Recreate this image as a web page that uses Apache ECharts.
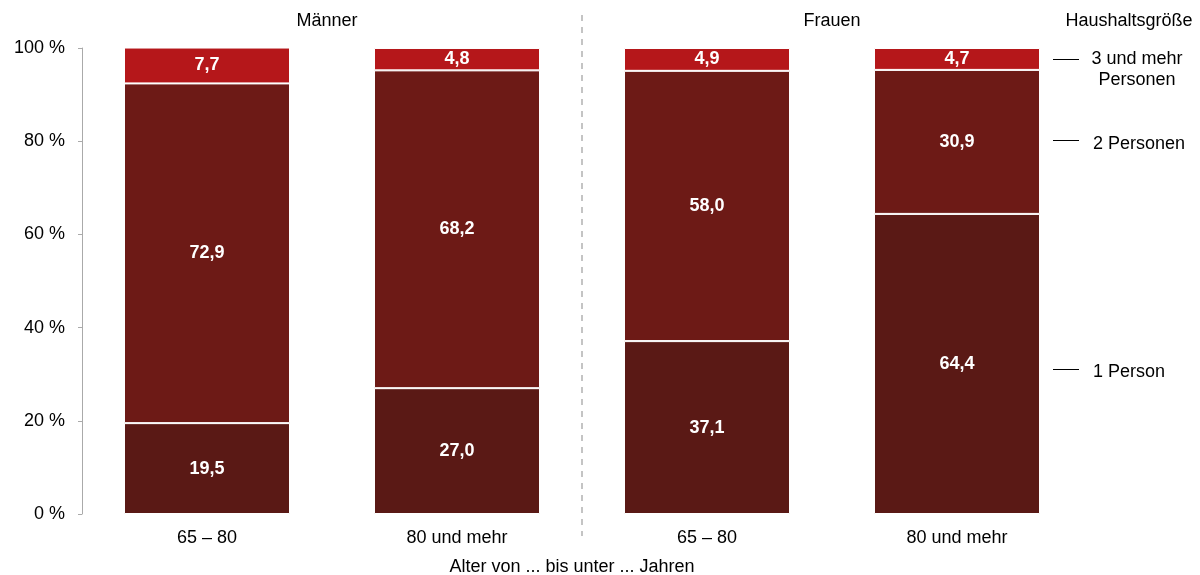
<!DOCTYPE html>
<html>
<head>
<meta charset="utf-8">
<script src="https://cdn.jsdelivr.net/npm/echarts@6/dist/echarts.min.js"></script>
<style>
  html, body { margin: 0; padding: 0; background: #fff; }
  #chart { width: 1200px; height: 575px; }
</style>
</head>
<body>
<div id="chart"></div>
<script>
// Haushaltsgröße nach Alter und Geschlecht, in %
var categories = ['65 – 80', '80 und mehr', '65 – 80', '80 und mehr'];
var groups = ['Männer', 'Frauen'];
var onePerson = [19.5, 27.0, 37.1, 64.4];
var twoPersons = [72.9, 68.2, 58.0, 30.9];
var threePlus = [7.7, 4.8, 4.9, 4.7];
var yTicks = [0, 20, 40, 60, 80, 100];

var font = 'Liberation Sans, Arial, sans-serif';
var myChart = echarts.init(document.getElementById('chart'));

function fmt(p) {
  return p.value.toFixed(1).replace('.', ',');
}

function seg(name, data, color) {
  return {
    name: name,
    type: 'bar',
    stack: 'total',
    data: data,
    barWidth: 166,
    itemStyle: { color: color, borderColor: '#fff', borderWidth: 1 },
    label: {
      show: true,
      position: 'inside',
      formatter: fmt,
      color: '#fff',
      fontFamily: font,
      fontWeight: 'bold',
      fontSize: 18
    }
  };
}

function txt(x, y, s, align) {
  return { type: 'text', x: x, y: y,
    style: { text: s, fill: '#000', font: '18px ' + font, textAlign: align || 'center', textVerticalAlign: 'middle', lineHeight: 21 } };
}

myChart.setOption({
  animation: false,
  grid: { left: 82, right: 118, top: 48, bottom: 61 },
  xAxis: {
    type: 'category',
    data: categories,
    axisLine: { show: false },
    axisTick: { show: false },
    axisLabel: { color: '#000', fontFamily: font, fontSize: 18, margin: 15 }
  },
  yAxis: {
    type: 'value',
    min: yTicks[0],
    max: yTicks[yTicks.length - 1],
    interval: 20,
    splitLine: { show: false },
    axisLine: { show: true, lineStyle: { color: '#aaa' } },
    axisTick: { show: true, length: 4, lineStyle: { color: '#aaa' } },
    axisLabel: {
      color: '#000', fontFamily: font, fontSize: 18, margin: 17,
      formatter: function (v) { return v + ' %'; }
    }
  },
  series: [
    seg('1 Person', onePerson, '#5a1915'),
    seg('2 Personen', twoPersons, '#6d1a16'),
    seg('3 und mehr Personen', threePlus, '#b5171a')
  ],
  graphic: [
    { type: 'line', shape: { x1: 582, y1: 15, x2: 582, y2: 536 },
      style: { stroke: '#c4c4c4', lineWidth: 2, lineDash: [6, 6] } },
    txt(327, 21, groups[0]),
    txt(832, 21, groups[1]),
    txt(1129, 21, 'Haushaltsgröße'),
    { type: 'line', shape: { x1: 1053, y1: 59.5, x2: 1079, y2: 59.5 }, style: { stroke: '#000', lineWidth: 1 } },
    txt(1137, 70, '3 und mehr\nPersonen'),
    { type: 'line', shape: { x1: 1053, y1: 140.5, x2: 1079, y2: 140.5 }, style: { stroke: '#000', lineWidth: 1 } },
    txt(1093, 144, '2 Personen', 'left'),
    { type: 'line', shape: { x1: 1053, y1: 369.5, x2: 1079, y2: 369.5 }, style: { stroke: '#000', lineWidth: 1 } },
    txt(1093, 372, '1 Person', 'left'),
    txt(572, 567, 'Alter von ... bis unter ... Jahren')
  ]
});
</script>
</body>
</html>
